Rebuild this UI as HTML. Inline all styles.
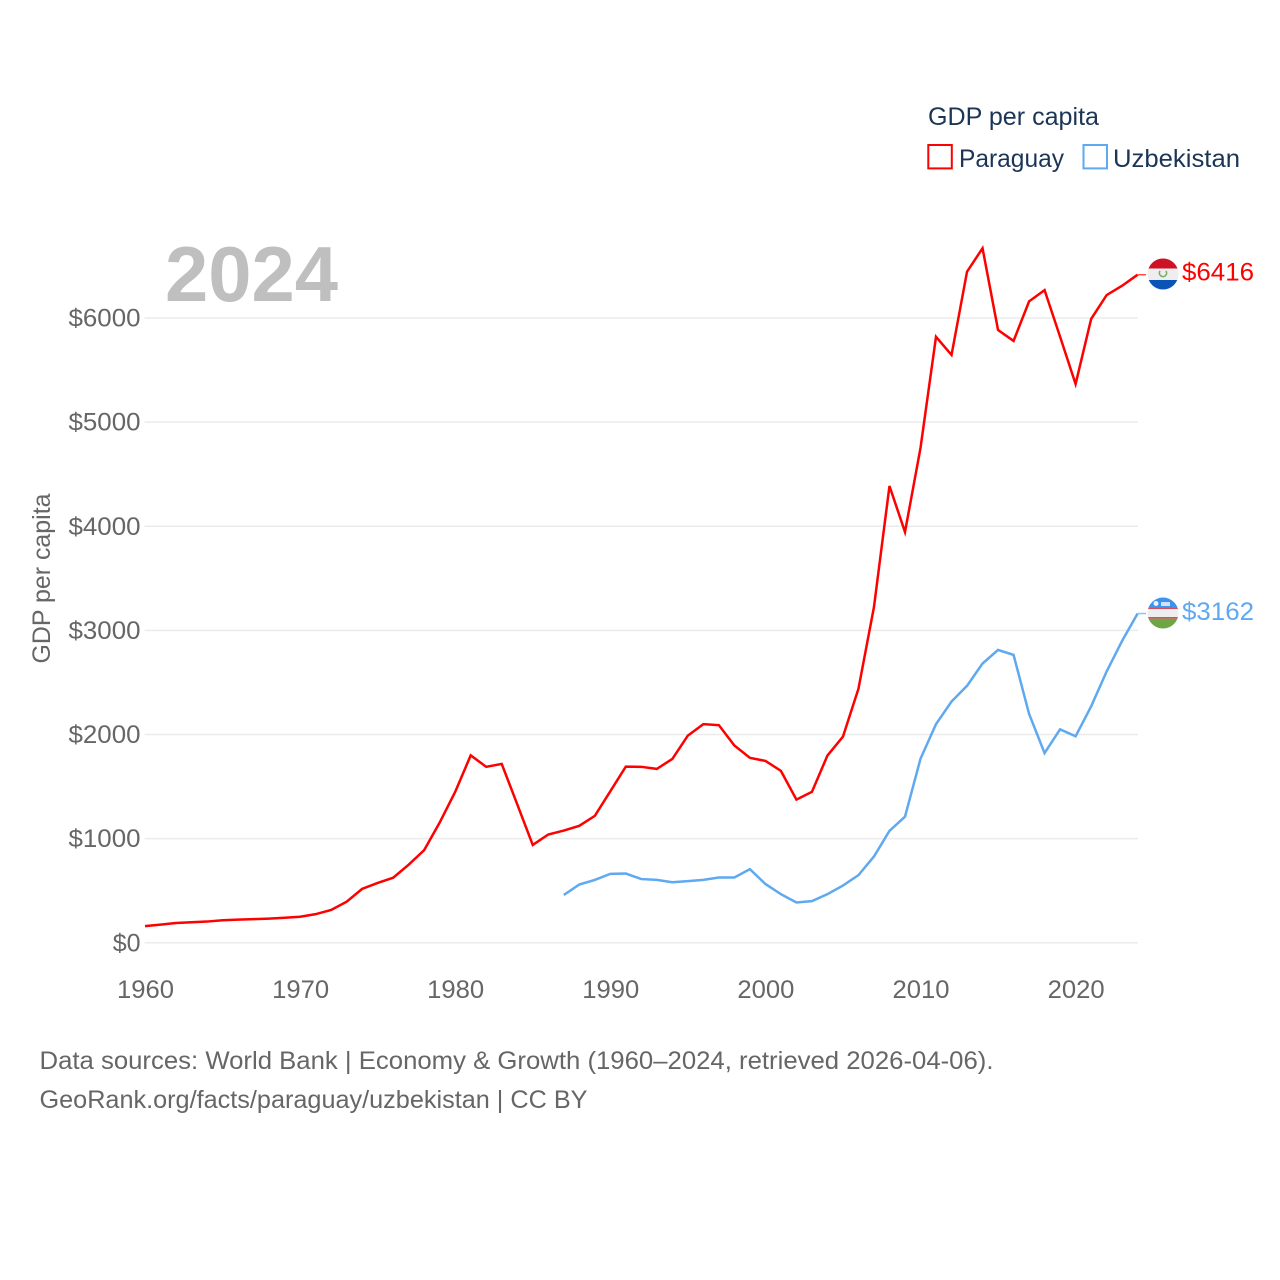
<!DOCTYPE html>
<html lang="en">
<head>
<meta charset="utf-8">
<title>GDP per capita: Paraguay and Uzbekistan</title>
<style>
html,body{margin:0;padding:0;background:#fff;width:1280px;height:1280px;overflow:hidden}
svg{display:block}
text{font-family:"Liberation Sans",sans-serif}
</style>
</head>
<body>
<svg id="chart" xmlns="http://www.w3.org/2000/svg" width="1280" height="1280" viewBox="0 0 1280 1280">
  <defs>
    <clipPath id="flag-clip-py"><circle id="clip-py" r="15.5"></circle></clipPath>
    <clipPath id="flag-clip-uz"><circle id="clip-uz" r="15.5"></circle></clipPath>
  </defs>
  <rect width="1280" height="1280" fill="#fff"></rect>
  <g id="grid"></g>
  <g id="yticks"></g>
  <g id="xticks"></g>
  <text x="165" y="301" font-size="78" font-weight="700" fill="#bfbfbf" textLength="173" lengthAdjust="spacingAndGlyphs">2024</text>
  <text transform="translate(50,578.5) rotate(-90)" text-anchor="middle" font-size="25" fill="#666666" textLength="170" lengthAdjust="spacingAndGlyphs">GDP per capita</text>
  <g id="series"></g>
  <g id="ends"></g>

  <g>
    <text x="928" y="125" font-size="25" fill="#1b3556" textLength="171" lengthAdjust="spacingAndGlyphs">GDP per capita</text>
    <rect x="928.3" y="145" width="23.5" height="23.4" fill="#fff" stroke="#ff0000" stroke-width="2"></rect>
    <text x="959" y="167" font-size="25" fill="#1b3556" textLength="105" lengthAdjust="spacingAndGlyphs">Paraguay</text>
    <rect x="1083.5" y="145" width="23.5" height="23.4" fill="#fff" stroke="#5ea9f0" stroke-width="2"></rect>
    <text x="1113" y="167" font-size="25" fill="#1b3556" textLength="127" lengthAdjust="spacingAndGlyphs">Uzbekistan</text>
  </g>

  <text x="39.5" y="1069" font-size="25" fill="#666666" textLength="954" lengthAdjust="spacingAndGlyphs">Data sources: World Bank | Economy &amp; Growth (1960–2024, retrieved 2026-04-06).</text>
  <text x="39.5" y="1108" font-size="25" fill="#666666" textLength="548" lengthAdjust="spacingAndGlyphs">GeoRank.org/facts/paraguay/uzbekistan | CC BY</text>
</svg>
<script>
const years = [1960,1961,1962,1963,1964,1965,1966,1967,1968,1969,1970,1971,1972,1973,1974,1975,1976,1977,1978,1979,1980,1981,1982,1983,1984,1985,1986,1987,1988,1989,1990,1991,1992,1993,1994,1995,1996,1997,1998,1999,2000,2001,2002,2003,2004,2005,2006,2007,2008,2009,2010,2011,2012,2013,2014,2015,2016,2017,2018,2019,2020,2021,2022,2023,2024];
const paraguayValues = [160,175,190,197,204,216,222,227,232,240,250,275,315,395,518,575,625,750,890,1155,1450,1800,1690,1718,1330,940,1040,1078,1123,1219,1455,1692,1690,1670,1766,1990,2100,2090,1895,1776,1747,1651,1375,1450,1798,1980,2440,3225,4387,3945,4752,5820,5645,6445,6670,5885,5780,6160,6268,5820,5366,5990,6220,6310,6416];
const uzbekistanValues = [null,null,null,null,null,null,null,null,null,null,null,null,null,null,null,null,null,null,null,null,null,null,null,null,null,null,null,459,560,604,662,665,612,604,582,592,604,627,627,707,565,467,387,400,467,550,650,829,1075,1211,1767,2100,2317,2468,2682,2813,2765,2199,1822,2050,1983,2270,2605,2900,3162];
const yTickValues = [0,1000,2000,3000,4000,5000,6000];
const xTickValues = [1960,1970,1980,1990,2000,2010,2020];

const SVGNS = 'http://www.w3.org/2000/svg';
const xScale = function (year) { return 145 + (year - 1960) * 15.51; };
const yScale = function (value) { return 942.8 - value * 0.10413; };
const PLOT_LEFT = 144.5;
const PLOT_RIGHT = 1138;

function make(tag, parent, attrs) {
  const el = document.createElementNS(SVGNS, tag);
  Object.keys(attrs).forEach(function (k) { el.setAttribute(k, attrs[k]); });
  parent.appendChild(el);
  return el;
}

const grid = document.getElementById('grid');
const yticks = document.getElementById('yticks');
const xticks = document.getElementById('xticks');
const seriesGroup = document.getElementById('series');
const ends = document.getElementById('ends');

yTickValues.forEach(function (v) {
  const line = make('line', grid, {x1: PLOT_LEFT, x2: PLOT_RIGHT, y1: yScale(v), y2: yScale(v), stroke: '#ebebeb', 'stroke-width': 1.5});
  
  
  const labelAttrs = {x: 140.5, y: yScale(v) + 8.5, 'text-anchor': 'end', 'font-size': 25, fill: '#666666'};
  if (v > 0) { labelAttrs.textLength = 72; labelAttrs.lengthAdjust = 'spacingAndGlyphs'; }
  const label = make('text', yticks, labelAttrs);
  
  
  label.textContent = '$' + v;
});

xTickValues.forEach(function (y) {
  const label = make('text', xticks, {x: xScale(y) + 0.5, y: 998, 'text-anchor': 'middle', 'font-size': 25, fill: '#666666', textLength: 57, lengthAdjust: 'spacingAndGlyphs'});
  
  
  label.textContent = y;
});

function linePath(values) {
  let d = '';
  values.forEach(function (v, i) {
    if (v === null) return;
    d += (d ? 'L' : 'M') + xScale(years[i]).toFixed(2) + ' ' + yScale(v).toFixed(2);
  });
  return d;
}

const paraguayLine = make('path', seriesGroup, {d: linePath(paraguayValues), fill: 'none', stroke: '#ff0000', 'stroke-width': 2.5, 'stroke-linejoin': 'miter'});



const uzbekistanLine = make('path', seriesGroup, {d: linePath(uzbekistanValues), fill: 'none', stroke: '#5ea9f0', 'stroke-width': 2.5, 'stroke-linejoin': 'miter'});



const pyLast = paraguayValues[paraguayValues.length - 1];
const uzLast = uzbekistanValues[uzbekistanValues.length - 1];
const pyY = yScale(pyLast);
const uzY = yScale(uzLast);
const pyFlagY = pyY - 0.7;
const uzFlagY = uzY - 0.5;

const pyConnector = make('line', ends, {x1: PLOT_RIGHT, x2: 1146, y1: pyY, y2: pyY, stroke: '#ff0000', 'stroke-width': 1.5, opacity: 0.7});



const uzConnector = make('line', ends, {x1: PLOT_RIGHT, x2: 1146, y1: uzY, y2: uzY, stroke: '#5ea9f0', 'stroke-width': 1.5, opacity: 0.7});



document.getElementById('clip-py').setAttribute('cx', 1163);
document.getElementById('clip-py').setAttribute('cy', pyFlagY);
document.getElementById('clip-uz').setAttribute('cx', 1163);
document.getElementById('clip-uz').setAttribute('cy', uzFlagY);

const pyFlag = make('g', ends, {'clip-path': 'url(#flag-clip-py)'});


make('rect', pyFlag, {x: 1147, y: pyFlagY - 16, width: 32, height: 10.5, fill: '#cf1126'});
make('rect', pyFlag, {x: 1147, y: pyFlagY - 5.5, width: 32, height: 11.5, fill: '#eeeeee'});
make('rect', pyFlag, {x: 1147, y: pyFlagY + 6, width: 32, height: 10, fill: '#0a54b8'});
make('path', pyFlag, {d: 'M1160 ' + (pyFlagY - 3) + 'a3.6 3.6 0 1 0 6 0', fill: 'none', stroke: '#7fa866', 'stroke-width': 1.6});

const uzFlag = make('g', ends, {'clip-path': 'url(#flag-clip-uz)'});


make('rect', uzFlag, {x: 1147, y: uzFlagY - 16, width: 32, height: 11, fill: '#3d92ee'});
make('rect', uzFlag, {x: 1147, y: uzFlagY - 5, width: 32, height: 1, fill: '#d8455a'});
make('rect', uzFlag, {x: 1147, y: uzFlagY - 4, width: 32, height: 8, fill: '#eeeeee'});
make('rect', uzFlag, {x: 1147, y: uzFlagY + 4, width: 32, height: 1.6, fill: '#d8455a'});
make('rect', uzFlag, {x: 1147, y: uzFlagY + 5.6, width: 32, height: 10.4, fill: '#6ea646'});
make('circle', uzFlag, {cx: 1156, cy: uzFlagY - 9.5, r: 2.5, fill: '#e8f1fb'});
make('rect', uzFlag, {x: 1161, y: uzFlagY - 11, width: 9, height: 4, fill: '#cfe2f8'});

const pyLabel = make('text', ends, {x: 1182, y: pyY + 6, 'font-size': 25, fill: '#ff0000', textLength: 72, lengthAdjust: 'spacingAndGlyphs'});


pyLabel.textContent = '$' + pyLast;

const uzLabel = make('text', ends, {x: 1182, y: uzY + 6.5, 'font-size': 25, fill: '#5ea9f0', textLength: 72, lengthAdjust: 'spacingAndGlyphs'});


uzLabel.textContent = '$' + uzLast;
</script>
</body>
</html>
